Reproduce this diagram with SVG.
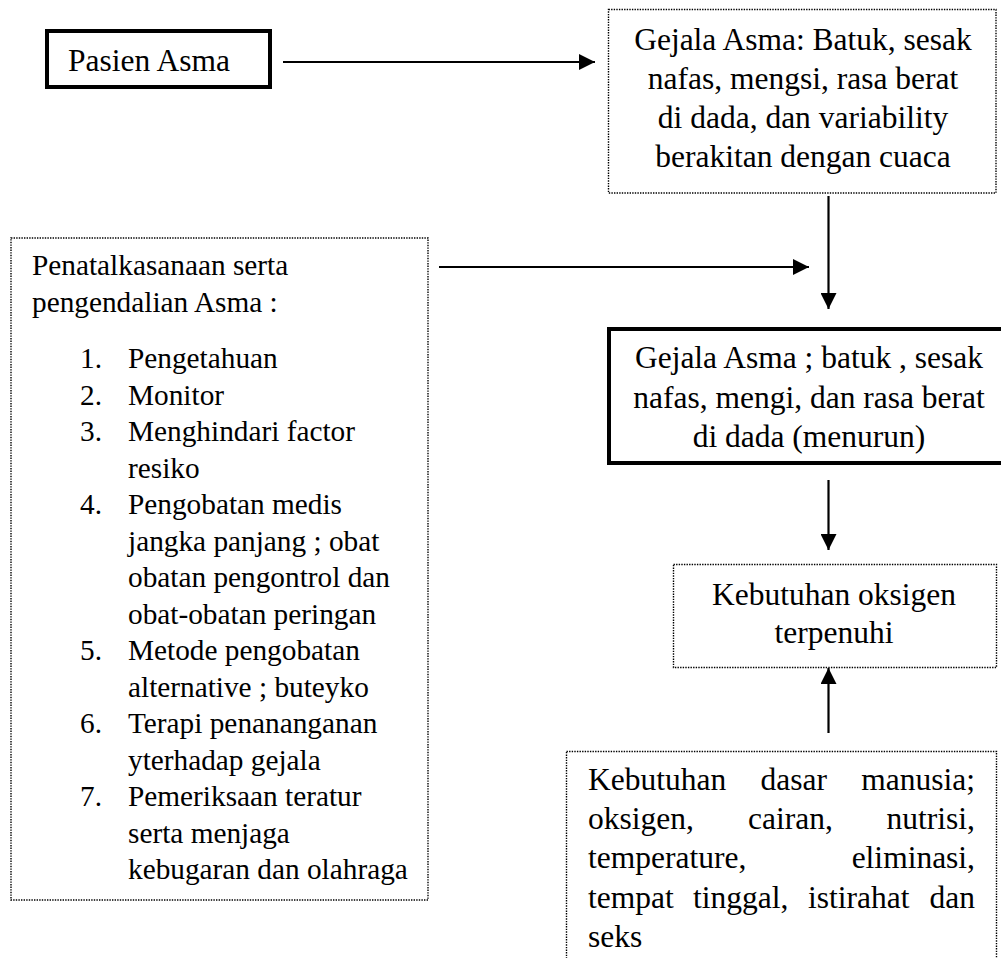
<svg xmlns="http://www.w3.org/2000/svg" width="1001" height="958" viewBox="0 0 1001 958">
<style>
text{font-family:"Liberation Serif","Times New Roman",serif;fill:#000}
.t{font-size:31.5px}
.l{font-size:29.3px}
.c{text-anchor:middle}
.e{text-anchor:end}
.solid{fill:#fff;stroke:#000;stroke-width:4}
.dot{fill:#fff;stroke:#000;stroke-width:1.4;stroke-dasharray:1.4 1.2}
.conn line{stroke:#000;stroke-width:2.2}
</style>
<defs>
<marker id="ah" markerUnits="userSpaceOnUse" markerWidth="17" markerHeight="16" refX="16" refY="8" orient="auto">
<path d="M0,0 L16,8 L0,16 Z" fill="#000"/>
</marker>
</defs>
<rect width="1001" height="958" fill="#fff"/>
<g id="pasien">
<rect class="solid" x="47" y="31" width="223" height="56"/>
<text class="t" x="68" y="71">Pasien Asma</text>
</g>
<g id="gejala1">
<rect class="dot" x="608.5" y="9.5" width="387.5" height="183.5"/>
<text class="t c" x="803" y="50">Gejala Asma: Batuk, sesak</text>
<text class="t c" x="803" y="89">nafas, mengsi, rasa berat</text>
<text class="t c" x="803" y="128">di dada, dan variability</text>
<text class="t c" x="803" y="167">berakitan dengan cuaca</text>
</g>
<g id="penatalaksanaan">
<rect class="dot" x="11" y="238" width="417" height="662"/>
<text class="l" x="32" y="275">Penatalkasanaan serta</text>
<text class="l" x="32" y="312">pengendalian Asma :</text>
<text class="l" x="80" y="368">1.</text><text class="l" x="128" y="368">Pengetahuan</text>
<text class="l" x="80" y="404.5">2.</text><text class="l" x="128" y="404.5">Monitor</text>
<text class="l" x="80" y="441">3.</text><text class="l" x="128" y="441">Menghindari factor</text>
<text class="l" x="128" y="477.5">resiko</text>
<text class="l" x="80" y="514">4.</text><text class="l" x="128" y="514">Pengobatan medis</text>
<text class="l" x="128" y="550.5">jangka panjang ; obat</text>
<text class="l" x="128" y="587">obatan pengontrol dan</text>
<text class="l" x="128" y="623.5">obat-obatan peringan</text>
<text class="l" x="80" y="660">5.</text><text class="l" x="128" y="660">Metode pengobatan</text>
<text class="l" x="128" y="696.5">alternative ; buteyko</text>
<text class="l" x="80" y="733">6.</text><text class="l" x="128" y="733">Terapi penananganan</text>
<text class="l" x="128" y="769.5">yterhadap gejala</text>
<text class="l" x="80" y="806">7.</text><text class="l" x="128" y="806">Pemeriksaan teratur</text>
<text class="l" x="128" y="842.5">serta menjaga</text>
<text class="l" x="128" y="879">kebugaran dan olahraga</text>
</g>
<g id="gejala2">
<rect class="solid" x="609" y="329" width="420" height="134"/>
<text class="t c" x="809" y="368">Gejala Asma ; batuk , sesak</text>
<text class="t c" x="809" y="407.5">nafas, mengi, dan rasa berat</text>
<text class="t c" x="809" y="447">di dada (menurun)</text>
</g>
<g id="oksigen">
<rect class="dot" x="673.5" y="564.5" width="323" height="103"/>
<text class="t c" x="834" y="605">Kebutuhan oksigen</text>
<text class="t c" x="834" y="643">terpenuhi</text>
</g>
<g id="kebutuhan-dasar">
<rect class="dot" x="566.5" y="751.5" width="430" height="230"/>
<text class="t" x="588" y="790">Kebutuhan</text>
<text class="t" x="760.5" y="790">dasar</text>
<text class="t e" x="975" y="790">manusia;</text>
<text class="t" x="588" y="829">oksigen,</text>
<text class="t" x="748" y="829">cairan,</text>
<text class="t e" x="975" y="829">nutrisi,</text>
<text class="t" x="588" y="868">temperature,</text>
<text class="t e" x="975" y="868">eliminasi,</text>
<text class="t" x="588" y="907.5">tempat</text>
<text class="t" x="693" y="907.5">tinggal,</text>
<text class="t" x="808" y="907.5">istirahat</text>
<text class="t e" x="975" y="907.5">dan</text>
<text class="t" x="588" y="947">seks</text>
</g>
<g id="connectors" class="conn">
<line x1="283" y1="62" x2="595" y2="62" marker-end="url(#ah)"/>
<line x1="828.5" y1="196" x2="828.5" y2="309" marker-end="url(#ah)"/>
<line x1="439" y1="267" x2="809" y2="267" marker-end="url(#ah)"/>
<line x1="828.5" y1="480" x2="828.5" y2="550" marker-end="url(#ah)"/>
<line x1="828.5" y1="733" x2="828.5" y2="668" marker-end="url(#ah)"/>
</g>
</svg>
